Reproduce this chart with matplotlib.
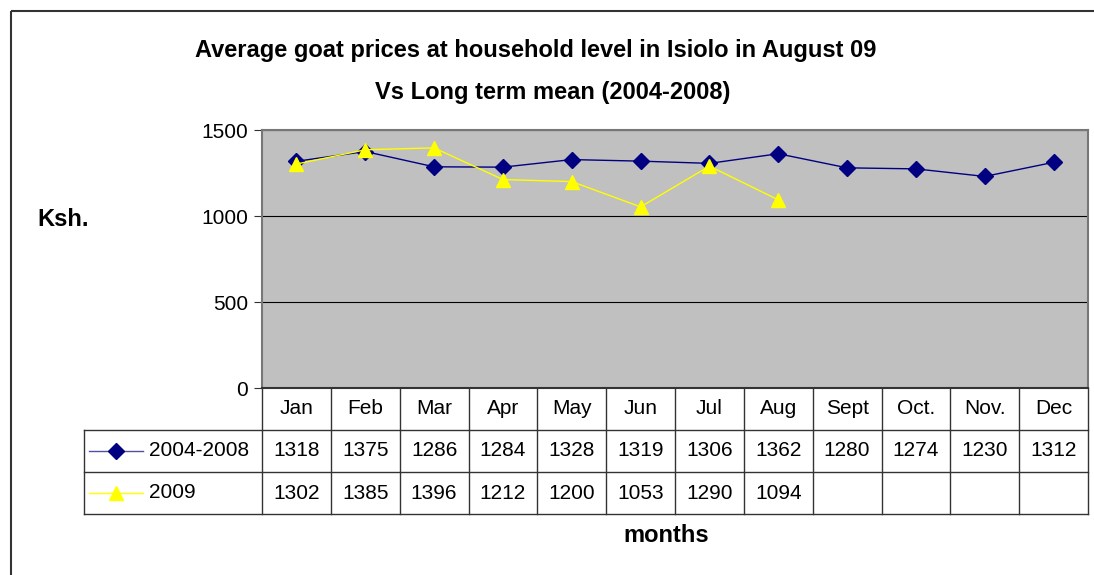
import numpy as np
import matplotlib.pyplot as plt
from matplotlib.transforms import blended_transform_factory

plt.rcParams['font.family'] = ['Liberation Sans', 'DejaVu Sans']

# data
months = ['Jan', 'Feb', 'Mar', 'Apr', 'May', 'Jun', 'Jul', 'Aug',
          'Sept', 'Oct.', 'Nov.', 'Dec']
mean_0408 = [1318, 1375, 1286, 1284, 1328, 1319, 1306, 1362, 1280, 1274, 1230, 1312]
price_2009 = [1302, 1385, 1396, 1212, 1200, 1053, 1290, 1094]

W, H = 1094, 575
fig = plt.figure(figsize=(W / 100, H / 100), dpi=100)

# overlay in pixel coords for frame and free text
ov = fig.add_axes([0, 0, 1, 1])
ov.set_xlim(0, W)
ov.set_ylim(H, 0)
ov.axis('off')
ov.add_patch(plt.Rectangle((11, 11), 1100, 570, fill=False, lw=1.5, ec='#333333',
                           clip_on=False))
ov.text(536, 50, 'Average goat prices at household level in Isiolo in August 09',
        ha='center', va='center', fontsize=17, fontweight='bold')
ov.text(553, 92, 'Vs Long term mean (2004-2008)',
        ha='center', va='center', fontsize=17, fontweight='bold')
ov.text(63, 219, 'Ksh.', ha='center', va='center', fontsize=17, fontweight='bold')
ov.text(666, 535, 'months', ha='center', va='center', fontsize=17, fontweight='bold')

# main plot area
x0, x1, y0, y1 = 262, 1088, 130, 388
ax = fig.add_axes([x0 / W, 1 - y1 / H, (x1 - x0) / W, (y1 - y0) / H])
ax.set_facecolor('#c0c0c0')
ax.set_xlim(-0.5, 11.5)
ax.set_ylim(0, 1500)
ax.set_yticks([0, 500, 1000, 1500])
ax.yaxis.grid(True, color='black', lw=0.8)
ax.set_axisbelow(True)
ax.set_xticks([])
ax.tick_params(axis='y', labelsize=15, length=6, width=0.8, color='#333333', pad=4)
for s in ['left', 'bottom', 'top', 'right']:
    ax.spines[s].set_color('#777777')
    ax.spines[s].set_linewidth(1.5)
ax.spines['bottom'].set_color('#333333')

xs = np.arange(len(months))
ax.plot(xs, mean_0408, color='#000080', lw=1, marker='D', ms=8.5, zorder=3)
ax.plot(xs[:len(price_2009)], price_2009, color='#ffff00', lw=1, marker='^', ms=10,
        zorder=4)

# data table under the axes
tr = blended_transform_factory(ax.transData, ax.transAxes)
rh = 42 / (y1 - y0)
leg_left = (84 - x0) / (x1 - x0)
tra = ax.transAxes
kw = dict(color='#333333', lw=1, clip_on=False)
# horizontal lines
ax.plot([leg_left, 1], [-rh, -rh], transform=tra, **kw)
ax.plot([leg_left, 1], [-2 * rh, -2 * rh], transform=tra, **kw)
ax.plot([leg_left, 1], [-3 * rh, -3 * rh], transform=tra, **kw)
# vertical lines
for i in range(13):
    ax.plot([i - 0.5, i - 0.5], [0, -3 * rh], transform=tr, **kw)
ax.plot([leg_left, leg_left], [-rh, -3 * rh], transform=tra, **kw)

for i, m in enumerate(months):
    ax.text(i, -0.5 * rh, m, transform=tr, ha='center', va='center', fontsize=15)
    ax.text(i, -1.5 * rh, str(mean_0408[i]), transform=tr, ha='center', va='center',
            fontsize=15)
    if i < len(price_2009):
        ax.text(i, -2.5 * rh, str(price_2009[i]), transform=tr,
                ha='center', va='center', fontsize=15)

# legend keys in the table
for row, (lab, col, mk, ms, lc) in enumerate([
        ('2004-2008', '#000080', 'D', 8.5, '#5050a0'),
        ('2009', '#ffff00', '^', 10, '#ffff00')]):
    yc = 451 + row * 42
    ov.plot([89, 143], [yc, yc], color=lc, lw=1)
    ov.plot([116], [yc], marker=mk, color=col, ms=ms)
    ov.text(149, yc, lab, ha='left', va='center', fontsize=15)

fig.savefig('out.png', dpi=100)
